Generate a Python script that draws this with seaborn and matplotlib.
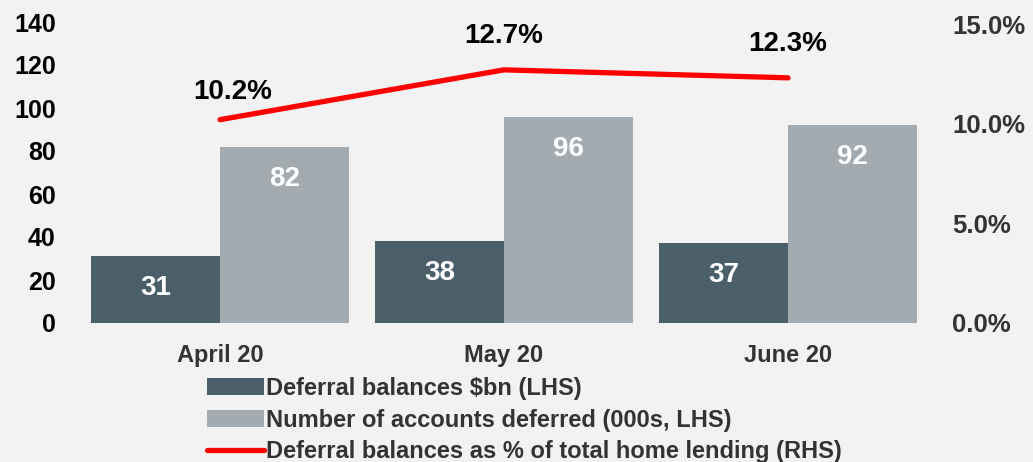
import numpy as np
import pandas as pd
import matplotlib
matplotlib.use("Agg")
import matplotlib.pyplot as plt
import seaborn as sns
from matplotlib.patches import Patch
from matplotlib.lines import Line2D

months = ["April 20", "May 20", "June 20"]
deferral_bn = [31, 38, 37]
accounts_k = [82, 96, 92]
pct_home = [10.2, 12.7, 12.3]
left_ticks = [0, 20, 40, 60, 80, 100, 120, 140]
right_ticks = [0.0, 5.0, 10.0, 15.0]
series_names = ["Deferral balances $bn (LHS)",
                "Number of accounts deferred (000s, LHS)",
                "Deferral balances as % of total home lending (RHS)"]

sns.set_theme(style="white")
plt.rcParams['font.family'] = ['Liberation Sans', 'DejaVu Sans']
plt.rcParams['font.weight'] = 'bold'

BG = "#f2f2f2"
DARK = "#4b5f6b"
LIGHT = "#a4abb0"
RED = "#ff0000"

fig = plt.figure(figsize=(10.33, 4.62), dpi=100, facecolor=BG)
W, H = 1033, 462
ax = fig.add_axes([78 / W, 1 - 323 / H, (930 - 78) / W, (323 - 22) / H])
ax.set_facecolor(BG)

df = pd.DataFrame({
    "month": months * 2,
    "value": deferral_bn + accounts_k,
    "series": [series_names[0]] * 3 + [series_names[1]] * 3,
})
sns.barplot(data=df, x="month", y="value", hue="series", palette=[DARK, LIGHT],
            width=0.91, ax=ax, legend=False, saturation=1, linewidth=0)

for cont in ax.containers:
    for rect, v in zip(cont.patches, cont.datavalues):
        rect.set_linewidth(0)
        ax.annotate(f"{v:.0f}", (rect.get_x() + rect.get_width() / 2, v),
                    xytext=(0, -32), textcoords="offset pixels",
                    ha="center", va="center", color="white",
                    fontsize=20, fontweight="bold")

ax.set_xlim(-0.5, 2.5)
ax.set_ylim(0, 140)
ax.set_yticks(left_ticks)
ax.set_yticklabels([str(t) for t in left_ticks], fontsize=18, fontweight="bold", color="black")
ax.set_xlabel("")
ax.set_ylabel("")
ax.tick_params(axis="y", length=0, pad=16)
ax.tick_params(axis="x", length=0, pad=15)
for lab in ax.get_xticklabels():
    lab.set_fontsize(17)
    lab.set_fontweight("bold")
    lab.set_color("#333333")
sns.despine(ax=ax, left=True, bottom=True)

ax2 = ax.twinx()
sns.lineplot(x=np.arange(len(months)), y=pct_home, ax=ax2, color=RED, linewidth=3.8,
             solid_capstyle="round")
ax2.set_ylim(0, 15 * 301 / 299)
ax2.set_yticks(right_ticks)
ax2.set_yticklabels([f"{t:.1f}%" for t in right_ticks], fontsize=18.5, fontweight="bold",
                    color="#333333")
ax2.tick_params(axis="y", length=0, pad=16)
ax2.set_ylabel("")
sns.despine(ax=ax2, left=True, bottom=True, right=True)
offs = [(13, 28), (0, 34), (0, 34)]
for i, v in enumerate(pct_home):
    ax2.annotate(f"{v:.1f}%", (i, v), xytext=offs[i], textcoords="offset pixels",
                 ha="center", va="center", fontsize=20, fontweight="bold", color="black")

handles = [Patch(facecolor=DARK, edgecolor="none"),
           Patch(facecolor=LIGHT, edgecolor="none"),
           Line2D([0], [0], color=RED, linewidth=3.8, solid_capstyle="round")]
leg = fig.legend(handles, series_names, loc="upper left",
                 bbox_to_anchor=(207 / W, 1 - 377 / H), frameon=False,
                 prop={"family": "Liberation Sans", "weight": "bold", "size": 17},
                 handlelength=2.4, handleheight=0.72, handletextpad=0.1,
                 labelspacing=0.36, borderpad=0, borderaxespad=0)
for t in leg.get_texts():
    t.set_color("#333333")

fig.savefig("out.png", dpi=100, facecolor=BG)
